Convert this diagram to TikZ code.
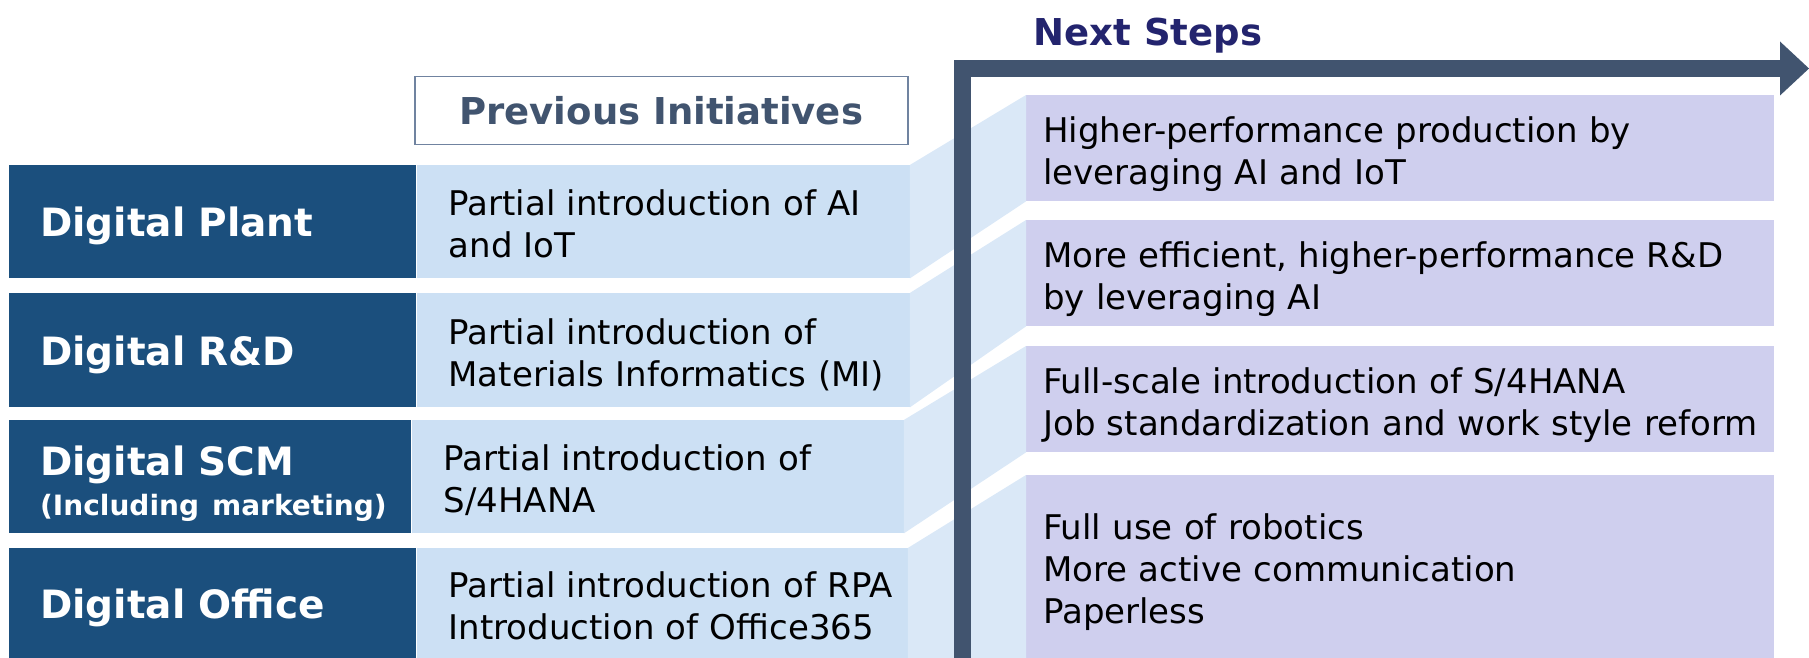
\documentclass[tikz,border=0pt]{standalone}
\usepackage{fontspec}
\setmainfont{DejaVu Sans}
\usetikzlibrary{positioning, arrows.meta}

\definecolor{areablue}{HTML}{1B4F7D}
\definecolor{nowblue}{HTML}{CCE0F4}
\definecolor{bandblue}{HTML}{DAE8F7}
\definecolor{nextlilac}{HTML}{CFCFEE}
\definecolor{slate}{HTML}{41546F}
\definecolor{headnavy}{HTML}{23246E}
\definecolor{framegray}{HTML}{7083A0}

\begin{document}
\begin{tikzpicture}[x=1pt, y=-1pt,
  area/.style={fill=areablue, text=white, anchor=north west, inner sep=0pt,
    align=left, text width=407pt, font=\fontsize{39}{46}\selectfont\bfseries,
    execute at begin node={\leftskip=31pt\rule{0pt}{#1}}, execute at end node={\rule[-10pt]{0pt}{10pt}}},
  area/.default=40pt,
  now/.style={fill=nowblue, inner sep=0pt, align=left, text width=493pt,
    font=\fontsize{34}{42}\selectfont,
    execute at begin node={\leftskip=32pt\rule{0pt}{39pt}}, execute at end node={\rule[-9pt]{0pt}{9pt}}},
  next/.style={fill=nextlilac, anchor=north west, inner sep=0pt, align=left,
    text width=748pt, font=\fontsize{34}{42}\selectfont,
    execute at begin node={\leftskip=17pt\rule{0pt}{39pt}}, execute at end node={\rule[-9pt]{0pt}{9pt}}},
  band/.style={fill=bandblue},
  timeline/.style={draw=slate, line width=17pt, -{Triangle[width=54pt, length=29pt, line width=0pt]}},
]
\useasboundingbox (0,0) rectangle (1809,658);

\node (prev) [draw=framegray, line width=1.5pt, anchor=north west, minimum width=493pt, minimum height=68pt,
  text=slate, font=\fontsize{37}{40}\selectfont\bfseries] at (414,76) {Previous Initiatives};
\node (steps) [anchor=base, text=headnavy, font=\fontsize{37}{40}\selectfont\bfseries] at (1148,46) {Next Steps};

% current areas
\node (plant) [area, minimum height=113pt] at (9,165) {Digital Plant};
\node (rnd) [area, minimum height=114pt] at (9,293) {Digital R\&D};
\node (scm) [area=47pt, minimum height=113pt, text width=402pt] at (9,420)
  {Digital SCM\\[-6pt]{\fontsize{28}{32}\selectfont(Including marketing)}};
\node (office) [area, minimum height=110pt] at (9,548) {Digital Office};

\node (plantnow) [now, minimum height=113pt, right=0pt of plant] {Partial introduction of AI\\and IoT};
\node (rndnow) [now, minimum height=114pt, right=0pt of rnd] {Partial introduction of\\Materials Informatics (MI)};
\node (scmnow) [now, minimum height=113pt, text width=492pt, right=0pt of scm] {Partial introduction of\\S/4HANA};
\node (officenow) [now, minimum height=110pt, text width=491pt, right=0pt of office] {Partial introduction of RPA\\Introduction of Office365};

% next steps
\node (next1) [next, minimum height=106pt] at (1026,95) {Higher-performance production by\\leveraging AI and IoT};
\node (next2) [next, minimum height=106pt] at (1026,220) {More efficient, higher-performance R\&D\\by leveraging AI};
\node (next3) [next, minimum height=106pt] at (1026,346) {Full-scale introduction of S/4HANA\\Job standardization and work style reform};
\node (next4) [next, minimum height=183pt] at (1026,475) {Full use of robotics\\More active communication\\Paperless};

\foreach \a/\b in {plantnow/next1, rndnow/next2, scmnow/next3, officenow/next4}
  \fill[band] (\a.north east) -- (\b.north west) -- (\b.south west) -- (\a.south east) -- cycle;

\coordinate (barfoot) at (962.5,658);
\coordinate (tip) at (1809,68.5);
\draw[timeline] (barfoot) |- (tip);

\end{tikzpicture}
\end{document}
